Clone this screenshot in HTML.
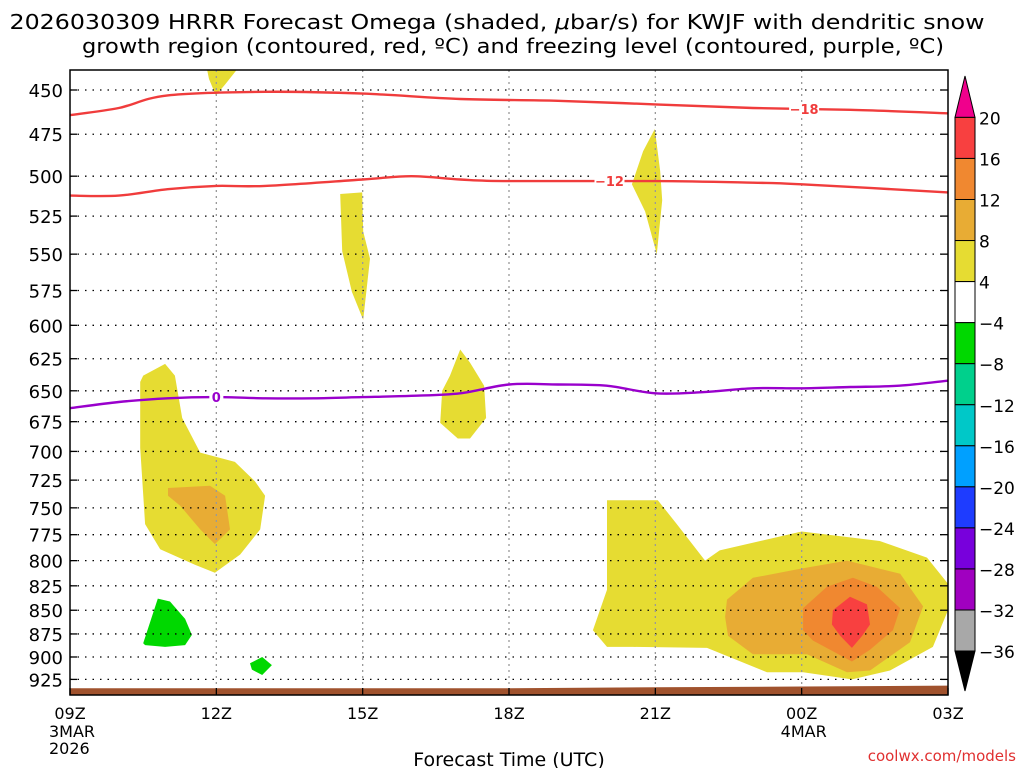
<!DOCTYPE html>
<html><head><meta charset="utf-8"><style>
html,body{margin:0;padding:0;background:#fff;width:1024px;height:768px;overflow:hidden}
svg{display:block;font-family:"DejaVu Sans","Liberation Sans",sans-serif}
</style></head><body>
<svg id="chart" width="1024" height="768" viewBox="0 0 1024 768" xmlns="http://www.w3.org/2000/svg">
<text x="497" y="29" font-size="20" text-anchor="middle" fill="#000" textLength="975" lengthAdjust="spacingAndGlyphs">2026030309 HRRR Forecast Omega (shaded, <tspan font-style="italic">μ</tspan>bar/s) for KWJF with dendritic snow</text>
<text x="513" y="53" font-size="20" text-anchor="middle" fill="#000" textLength="862" lengthAdjust="spacingAndGlyphs">growth region (contoured, red, ºC) and freezing level (contoured, purple, ºC)</text>
<g id="shading"></g>
<g id="terrain"></g>
<g id="grid"></g>
<g id="contours"></g>
<g id="axes"></g>
<g id="cbar"></g>
<text x="509" y="766" font-size="19" text-anchor="middle">Forecast Time (UTC)</text>
<text x="1016" y="761" font-size="15" text-anchor="end" fill="#e03030">coolwx.com/models</text>
</svg>
<script>
const xTickHours=[0,3,6,9,12,15,18];
const xTickLabels=["09Z","12Z","15Z","18Z","21Z","00Z","03Z"];
const xDateLabels=[["3MAR","2026"],[],[],[],[],["4MAR"],[]];
const yTicks=[450,475,500,525,550,575,600,625,650,675,700,725,750,775,800,825,850,875,900,925];
const hoursLine=[0,1,2,4,6,8,10,12,14,16,18];
const minus18=[464,460,453,451,452,455,456,458,460,461,463];
const hoursM12=[0,1,2,3,4,6,7,8,9,12,14,15,18];
const minus12=[512,512,508,506,506,502,500,502,503,503,504,505,510];
const hoursZero=[0,1,2,3,4,5,6,7,8,9,10,11,12,13,14,15,16,17,18];
const zeroLine=[664,659,656,655,656,656,655,654,652,645,645,646,652,651,648,648,647,646,642];
const cbarLevels=[20,16,12,8,4,-4,-8,-12,-16,-20,-24,-28,-32,-36];
const cbarColors=["#f84040","#f08830","#e8ac34","#e6dc32","#ffffff","#00d800","#00d08c","#00c8c8","#00a0ff","#1e3cff","#7800dc","#a000c0","#a8a8a8"];
const blobTop=[[2.81,439],[3.42,439],[3.18,447],[2.99,453],[2.85,444]];
const blob15Z=[[5.54,511],[5.99,510],[6.01,535],[6.15,553],[6.01,596],[5.78,576],[5.58,548]];
const blob21Z=[[11.99,472],[12.1,497],[12.14,515],[12.03,550],[11.79,522],[11.52,505],[11.75,485]];
const blob17Z=[[8.0,618],[8.2,628],[8.49,646],[8.53,672],[8.2,689],[7.95,689],[7.59,676],[7.63,650],[7.79,638]];
const blobLeft=[[1.5,638],[1.95,629],[2.15,638],[2.3,672],[2.67,701],[3.38,709],[3.79,726],[4.0,739],[3.9,770],[3.49,794],[2.97,812],[2.56,804],[1.85,789],[1.54,765],[1.44,697],[1.44,643]];
const blobLeftOr=[[2.01,732],[2.87,730],[3.18,739],[3.28,770],[2.97,784],[2.67,770],[2.26,748],[2.01,739]];
const blobGreen1=[[1.5,885],[1.8,838],[2.05,841],[2.36,859],[2.5,876],[2.36,887],[1.95,889],[1.54,887]];
const blobGreen2=[[3.69,907],[3.94,900],[4.14,909],[3.94,920],[3.73,914]];
const blobBR=[[11.01,743],[12.05,743],[12.44,765],[13.02,800],[13.32,790],[15.0,772],[16.6,781],[17.57,797],[18.0,823],[18.0,850],[17.69,889],[16.81,915],[16.03,925],[15.03,917],[14.29,917],[13.06,890],[11.54,889],[11.01,889],[10.72,871],[11.01,829]];
const blobBROr=[[13.43,857],[13.47,839],[14.0,817],[14.97,808],[15.93,800],[17.02,813],[17.49,846],[17.22,884],[16.4,915],[15.93,917],[15.11,897],[14.0,897],[13.49,877]];
const blobBROr2=[[15.03,848],[15.52,826],[16.05,817],[16.54,826],[17.02,848],[16.87,871],[16.4,892],[16.03,905],[15.23,882],[15.03,871]];
const blobBRRed=[[15.64,850],[15.99,836],[16.34,844],[16.4,865],[16.24,877],[16.03,890],[15.79,877],[15.62,865]];
const terrainP=[[0,935],[6,935],[9,935],[12,934],[15,933],[18,932]];

const NS="http://www.w3.org/2000/svg";
const X0=70,X1=948,Y0=70,Y1=695;
function xs(h){return X0+h*(X1-X0)/18;}
function ys(p){return 90+818*Math.log(p/450);}
function mk(tag,attrs,parent){const e=document.createElementNS(NS,tag);for(const k in attrs)e.setAttribute(k,attrs[k]);parent.appendChild(e);return e;}
function smooth(pts){
  let d='M'+pts[0][0].toFixed(1)+','+pts[0][1].toFixed(1);
  for(let i=0;i<pts.length-1;i++){
    const p0=pts[Math.max(i-1,0)],p1=pts[i],p2=pts[i+1],p3=pts[Math.min(i+2,pts.length-1)];
    const c1=[p1[0]+(p2[0]-p0[0])/6,p1[1]+(p2[1]-p0[1])/6];
    const c2=[p2[0]-(p3[0]-p1[0])/6,p2[1]-(p3[1]-p1[1])/6];
    d+=' C'+c1[0].toFixed(1)+','+c1[1].toFixed(1)+' '+c2[0].toFixed(1)+','+c2[1].toFixed(1)+' '+p2[0].toFixed(1)+','+p2[1].toFixed(1);
  }
  return d;
}
const sh=document.getElementById('shading');
function blob(pts,color,name){
  const d=pts.map((q,i)=>(i?'L':'M')+xs(q[0]).toFixed(1)+','+ys(q[1]).toFixed(1)).join(' ')+'Z';
  const e=mk('path',{d:d,fill:color,'stroke-linejoin':'round'},sh);
  
  
}
blob(blobTop,"#e6dc32","omega-blob-top");
blob(blob15Z,"#e6dc32","omega-blob-15z");
blob(blob21Z,"#e6dc32","omega-blob-21z");
blob(blob17Z,"#e6dc32","omega-blob-17z");
blob(blobLeft,"#e6dc32","omega-blob-left");
blob(blobLeftOr,"#e8ac34","omega-blob-left-core");
blob(blobGreen1,"#00d800","omega-blob-negative");
blob(blobGreen2,"#00d800","omega-blob-negative-small");
blob(blobBR,"#e6dc32","omega-blob-bottom-right");
blob(blobBROr,"#e8ac34","omega-blob-br-8");
blob(blobBROr2,"#f08830","omega-blob-br-12");
blob(blobBRRed,"#f84040","omega-blob-br-16");
const tr=document.getElementById('terrain');
let td='M'+X0+','+Y1+' '+terrainP.map(q=>'L'+xs(q[0])+','+ys(q[1]).toFixed(1)).join(' ')+' L'+X1+','+Y1+'Z';
const te=mk('path',{d:td,fill:'#a0522d'},tr);


const gr=document.getElementById('grid');
yTicks.forEach(p=>{const l=mk('line',{x1:X0,x2:X1,y1:ys(p),y2:ys(p),stroke:'#000','stroke-width':1.3,'stroke-dasharray':'1.5 6'},gr);

});
xTickHours.slice(1,-1).forEach(h=>{const l=mk('line',{x1:xs(h),x2:xs(h),y1:Y0,y2:Y1,stroke:'#999','stroke-width':1.3,'stroke-dasharray':'2 4'},gr);

});
const ct=document.getElementById('contours');
function cline(hs,ps,color,name,label,lh){
  const d=smooth(hs.map((h,i)=>[xs(h),ys(ps[i])]));
  const e=mk('path',{d:d,fill:'none',stroke:color,'stroke-width':2.4},ct);
  
  
  let i=0;while(i<hs.length-1&&hs[i+1]<lh)i++;
  const f=(lh-hs[i])/((hs[i+1]-hs[i])||1);const p=ps[i]+f*(ps[i+1]-ps[i]);
  const w=label.length*8+6;
  const r=mk('rect',{x:xs(lh)-w/2,y:ys(p)-7,width:w,height:14,fill:'#fff'},ct);
  
  
  const t=mk('text',{x:xs(lh),y:ys(p)+5,'font-size':13,'font-weight':'bold','text-anchor':'middle',fill:color},ct);
  t.textContent=label;
  
  
}
cline(hoursLine,minus18,'#f03c3c','contour-minus18','−18',15.05);
cline(hoursM12,minus12,'#f03c3c','contour-minus12','−12',11.06);
cline(hoursZero,zeroLine,'#9900cc','freezing-level-0','0',3.0);
const ax=document.getElementById('axes');
const fr=mk('rect',{x:X0,y:Y0,width:X1-X0,height:Y1-Y0,fill:'none',stroke:'#000','stroke-width':1.5},ax);


yTicks.forEach(p=>{
  const y=ys(p);
  const t1=mk('line',{x1:X0,x2:X0+7,y1:y,y2:y,stroke:'#000','stroke-width':1.3},ax);
  
  
  const t2=mk('line',{x1:X1-7,x2:X1,y1:y,y2:y,stroke:'#000','stroke-width':1.3},ax);
  
  
  const t=mk('text',{x:X0-7,y:y+7,'font-size':18,'text-anchor':'end'},ax);
  t.textContent=p;
  
  
});
xTickHours.forEach((h,i)=>{
  const x=xs(h);
  const tk=mk('line',{x1:x,x2:x,y1:Y1,y2:Y1-7,stroke:'#000','stroke-width':1.3},ax);
  
  
  const t=mk('text',{x:x,y:719,'font-size':16,'text-anchor':'middle'},ax);
  t.textContent=xTickLabels[i];
  
  
  xDateLabels[i].forEach((s,j)=>{
    const d=mk('text',{x:x-21,y:737+j*17,'font-size':16},ax);
    d.textContent=s;
    
    
  });
});
const cb=document.getElementById('cbar');
const CX0=955,CX1=975,CT=117.4,CH=41.05;
const up=mk('path',{d:`M${CX0},${CT} L${(CX0+CX1)/2},76 L${CX1},${CT}Z`,fill:'#f0008c',stroke:'#000'},cb);


cbarColors.forEach((c,i)=>{
  const r=mk('rect',{x:CX0,y:CT+i*CH,width:CX1-CX0,height:CH,fill:c,stroke:'#000','stroke-width':1},cb);
  
  
});
const bot=CT+cbarColors.length*CH;
const dn=mk('path',{d:`M${CX0},${bot} L${(CX0+CX1)/2},691 L${CX1},${bot}Z`,fill:'#000',stroke:'#000'},cb);


cbarLevels.forEach((v,i)=>{
  const t=mk('text',{x:979,y:CT+i*CH+7,'font-size':17},cb);
  t.textContent=v<0?'−'+(-v):String(v);
  
  
});
</script>
</body></html>
